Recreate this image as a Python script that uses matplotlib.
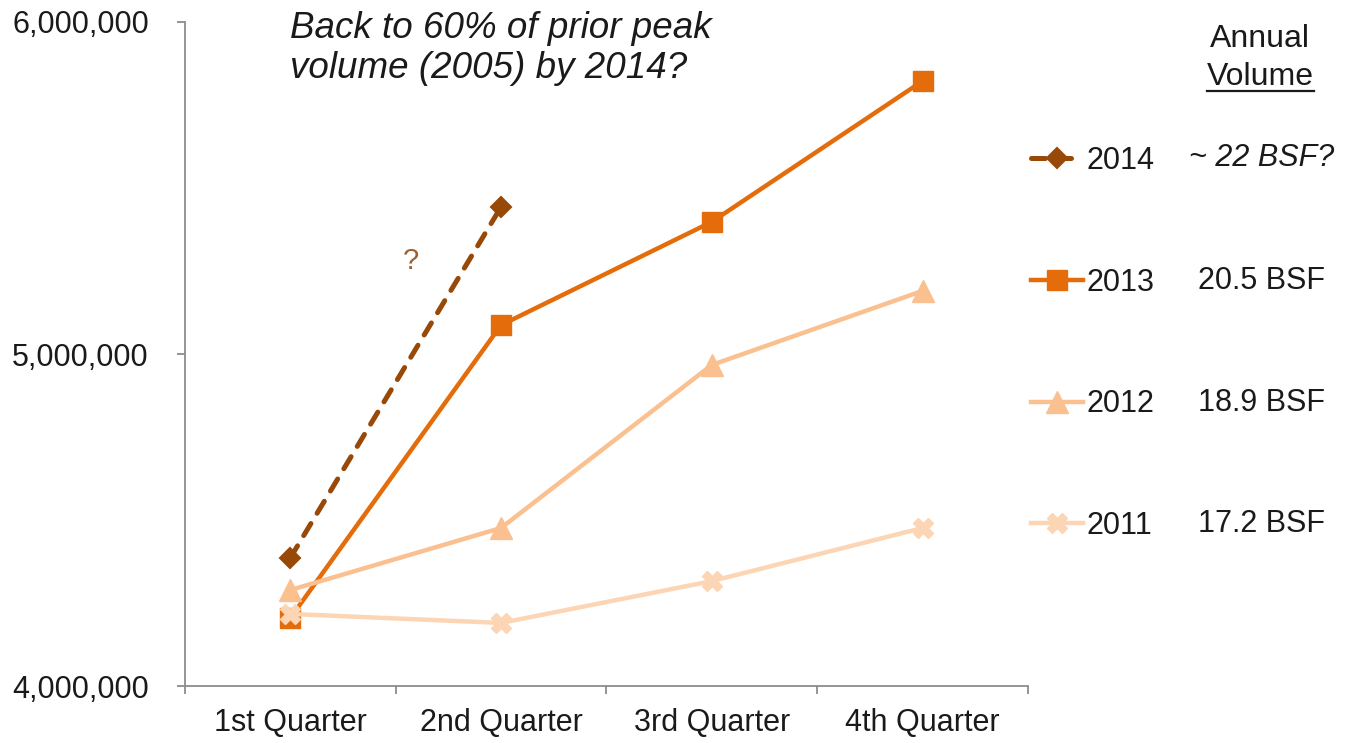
import matplotlib
matplotlib.use("Agg")
import matplotlib.pyplot as plt
from matplotlib.lines import Line2D
from matplotlib.ticker import FixedLocator, FuncFormatter

plt.rcParams['font.family'] = ['Liberation Sans', 'DejaVu Sans']

# Quarterly volume, one list per year
quarters = ['1st Quarter', '2nd Quarter', '3rd Quarter', '4th Quarter']
vol_2014 = [4386000, 5443000]
vol_2013 = [4205000, 5087000, 5398000, 5822000]
vol_2012 = [4289000, 4476000, 4967000, 5190000]
vol_2011 = [4217000, 4190000, 4316000, 4476000]

years = ['2014', '2013', '2012', '2011']
annual_volume = ['~ 22 BSF?', '20.5 BSF', '18.9 BSF', '17.2 BSF']

c2014 = '#984807'
c2013 = '#E46C0A'
c2012 = '#FAC090'
c2011 = '#FCD5B5'
text_color = '#1a1a1a'
axis_color = '#8c8c8c'

fig = plt.figure(figsize=(13.53, 7.43), dpi=100)
ax = fig.add_axes([0.1367, 0.0767, 0.623, 0.8937])

x_all = list(range(len(quarters)))

l14, = ax.plot(x_all[:len(vol_2014)], vol_2014, color=c2014, lw=3.6,
               dashes=(2.8, 2.4), dash_capstyle='round', marker='D',
               ms=10, mec=c2014, mew=1.5)
l13, = ax.plot(x_all, vol_2013, color=c2013, lw=3.2, marker='s', ms=15,
               mec=c2013, mew=1)
l12, = ax.plot(x_all, vol_2012, color=c2012, lw=3.2, marker='^', ms=16,
               mec=c2012, mew=1)
l11, = ax.plot(x_all, vol_2011, color=c2011, lw=3.2, marker='X', ms=15,
               mec=c2011, mew=1)

ax.set_xlim(-0.5, 3.5)
ax.set_ylim(4000000, 6000000)

# axis styling
for side in ['top', 'right']:
    ax.spines[side].set_visible(False)
for side in ['left', 'bottom']:
    ax.spines[side].set_color(axis_color)
    ax.spines[side].set_linewidth(1.3)

ax.yaxis.set_major_locator(FixedLocator([4000000, 5000000, 6000000]))
ax.yaxis.set_major_formatter(FuncFormatter(lambda v, p: f'{v:,.0f}'))
ax.tick_params(axis='y', length=6, width=1.3, color=axis_color, pad=20,
               labelsize=22, labelcolor=text_color)

ax.set_xticks(x_all)
ax.set_xticklabels(quarters)
ax.xaxis.set_minor_locator(FixedLocator([-0.5, 0.5, 1.5, 2.5, 3.5]))
ax.tick_params(axis='x', which='major', length=0, pad=16, labelsize=22,
               labelcolor=text_color)
ax.tick_params(axis='x', which='minor', length=6, width=1.3, color=axis_color)

# headline question and projection marker
fig.text(290 / 1353, 1 - 11 / 743,
         'Back to 60% of prior peak\nvolume (2005) by 2014?',
         style='italic', fontsize=26.5, color=text_color, ha='left', va='top',
         linespacing=1.2)
ax.text(0.57, 5280000, '?', fontsize=21, color='#a0602d',
        ha='center', va='center')

# legend with annual totals beside it
leg = fig.legend([l14, l13, l12, l11], years, loc='upper left',
                 bbox_to_anchor=(1031 / 1353, 1 - 146 / 743), frameon=False,
                 fontsize=22, handlelength=1.7, handletextpad=0.1,
                 labelspacing=3.0, borderpad=0, borderaxespad=0,
                 numpoints=1, labelcolor=text_color)

row_y = [158, 281, 403, 524]
for i, (label, y) in enumerate(zip(annual_volume, row_y)):
    fig.text(1262 / 1353, 1 - y / 743, label, fontsize=22, color=text_color,
             ha='center', va='center', style='italic' if i == 0 else 'normal')

fig.text(1260 / 1353, 1 - 39 / 743, 'Annual', fontsize=23, color=text_color,
         ha='center', va='center')
vol_txt = fig.text(1260 / 1353, 1 - 77 / 743, 'Volume', fontsize=23,
                   color=text_color, ha='center', va='center')

# underline the second header line
fig.canvas.draw()
bb = vol_txt.get_window_extent().transformed(fig.transFigure.inverted())
fig.add_artist(Line2D([bb.x0, bb.x1], [bb.y0 + 0.002, bb.y0 + 0.002],
                      transform=fig.transFigure, color=text_color, lw=1.6))

fig.savefig('out.png', dpi=100, facecolor='white')
